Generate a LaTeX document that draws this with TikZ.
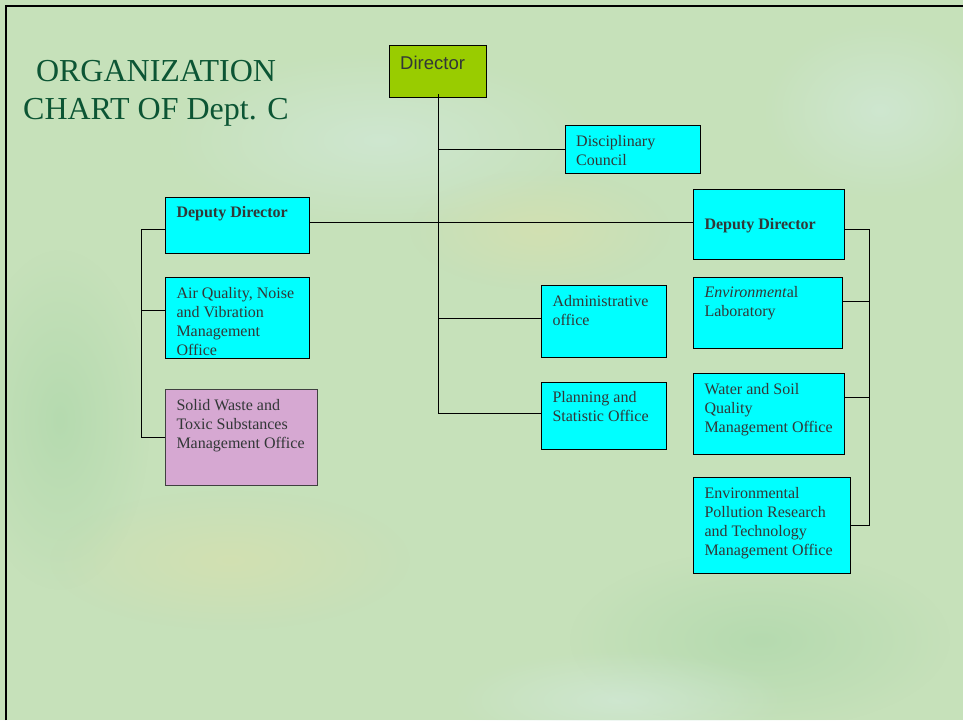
\documentclass[tikz,border=0pt]{standalone}
\usepackage{fontspec}
\setmainfont{Liberation Serif}
\newfontfamily\headfont{Liberation Sans}
\usetikzlibrary{fadings}

\definecolor{bggreen}{RGB}{198,225,186}
\definecolor{titlegreen}{RGB}{12,85,52}
\definecolor{boxtext}{RGB}{50,55,55}
\definecolor{dirgreen}{RGB}{153,204,0}
\definecolor{unitcyan}{RGB}{0,255,255}
\definecolor{unitpink}{RGB}{214,168,210}
\definecolor{washpale}{RGB}{212,234,222}
\definecolor{washsand}{RGB}{218,224,172}
\definecolor{washdeep}{RGB}{170,214,168}

\tikzfading[name=softspot,inner color=transparent!0,outer color=transparent!100]

\begin{document}
\begin{tikzpicture}[
  x=1pt,y=-1pt,
  unit/.style={draw=black,line width=1pt,fill=unitcyan,anchor=north west,
               inner sep=0pt},
  txt/.style={anchor=base west,align=left,inner sep=0pt,text=boxtext,
              font={\fontsize{16}{19}\selectfont}},
  link/.style={line width=0.9pt},
  wash/.style={path fading=softspot,fill opacity=0.6},
]
  \useasboundingbox (0,0) rectangle (963,720);
  \fill[bggreen] (0,0) rectangle (963,720);

  % Watercolour patches
  \fill[wash,washpale] (380,140) ellipse (220 and 90);
  \fill[wash,washsand] (540,230) ellipse (130 and 60);
  \fill[wash,washsand] (230,560) ellipse (180 and 70);
  \fill[wash,washdeep] (760,640) ellipse (190 and 90);
  \fill[wash,washpale] (620,700) ellipse (170 and 50);
  \fill[wash,washdeep] (60,420) ellipse (90 and 170);
  \fill[wash,washpale] (880,110) ellipse (120 and 90);

  \draw[line width=2.4pt] (6.2,720) -- (6.2,6.2) -- (963,6.2);

  % Title (base sits on the last line)
  \node[anchor=base,align=center,inner sep=0pt,text=titlegreen,
        font={\fontsize{32}{38}\selectfont}] (title) at (156,119)
        {ORGANIZATION\\CHART OF Dept. C};

  % Director
  \node[unit,fill=dirgreen,minimum width=97pt,minimum height=52pt] (dir) at (389,45) {};
  \node[txt,font={\headfont\fontsize{18.5}{22}\selectfont}] (dirtxt)
        at ([shift={(11,24)}]dir.north west) {Director};

  % Centre column
  \node[unit,minimum width=135pt,minimum height=48pt] (dc) at (565,125) {};
  \node[txt] (dctxt) at ([shift={(11,40)}]dc.north west) {Disciplinary\\Council};
  \node[unit,minimum width=125pt,minimum height=72pt] (admin) at (541.3,285) {};
  \node[txt] (admintxt) at ([shift={(11,40)}]admin.north west) {Administrative\\office};
  \node[unit,minimum width=125pt,minimum height=67pt] (plan) at (541.3,381.7) {};
  \node[txt] (plantxt) at ([shift={(11,40)}]plan.north west) {Planning and\\Statistic Office};

  % Left deputy and its offices
  \node[unit,minimum width=144pt,minimum height=56pt] (ldd) at (165.3,197) {};
  \node[txt,font={\bfseries\fontsize{16}{19}\selectfont}] (lddtxt)
        at ([shift={(11,20)}]ldd.north west) {Deputy Director};
  \node[unit,minimum width=144pt,minimum height=81pt] (air) at (165.3,277.3) {};
  \node[txt] (airtxt) at ([shift={(11,78)}]air.north west)
        {Air Quality, Noise\\and Vibration\\Management\\Office};
  \node[unit,fill=unitpink,draw=black!75,minimum width=152pt,minimum height=96pt] (solid) at (165.3,389.3) {};
  \node[txt] (solidtxt) at ([shift={(11,59)}]solid.north west)
        {Solid Waste and\\Toxic Substances\\Management Office};

  % Right deputy and its offices
  \node[unit,minimum width=151pt,minimum height=70pt] (rdd) at (693.3,189.3) {};
  \node[txt,font={\bfseries\fontsize{16}{19}\selectfont}] (rddtxt)
        at ([shift={(11,40)}]rdd.north west) {Deputy Director};
  \node[unit,minimum width=149pt,minimum height=71pt] (lab) at (693.3,277.3) {};
  \node[txt] (labtxt) at ([shift={(11,39.5)}]lab.north west)
        {\textit{Environment}al\\Laboratory};
  \node[unit,minimum width=151pt,minimum height=81pt] (water) at (693.3,373.3) {};
  \node[txt] (watertxt) at ([shift={(11,59)}]water.north west)
        {Water and Soil\\Quality\\Management Office};
  \node[unit,minimum width=157pt,minimum height=96pt] (poll) at (693.3,477.3) {};
  \node[txt] (polltxt) at ([shift={(11,78)}]poll.north west)
        {Environmental\\Pollution Research\\and Technology\\Management Office};

  % Bus lines
  \coordinate (lbus) at (141,0);
  \coordinate (rbus) at (869,0);

  % Director trunk
  \draw[link] ([yshift=4pt]dir.south) |- ([yshift=2pt]plan.west);
  \draw[link] (dir.south) |- (dc.west);
  \draw[link] (dir.south) |- ([yshift=3.5pt]admin.west);

  % Between the deputies
  \draw[link] ([yshift=3pt]ldd.east) -- ([yshift=3pt]ldd.east -| rdd.west);

  % Left bracket
  \draw[link] (solid.west) -- (solid.west -| lbus) |- ([yshift=-4pt]ldd.west);
  \draw[link] ([yshift=8pt]air.west) -- ([yshift=8pt]air.west -| lbus);

  % Right bracket
  \draw[link] (poll.east) -- (poll.east -| rbus) |- ([yshift=-5pt]rdd.east);
  \draw[link] ([yshift=11.5pt]lab.east) -- ([yshift=11.5pt]lab.east -| rbus);
  \draw[link] ([yshift=16.5pt]water.east) -- ([yshift=16.5pt]water.east -| rbus);
\end{tikzpicture}
\end{document}
